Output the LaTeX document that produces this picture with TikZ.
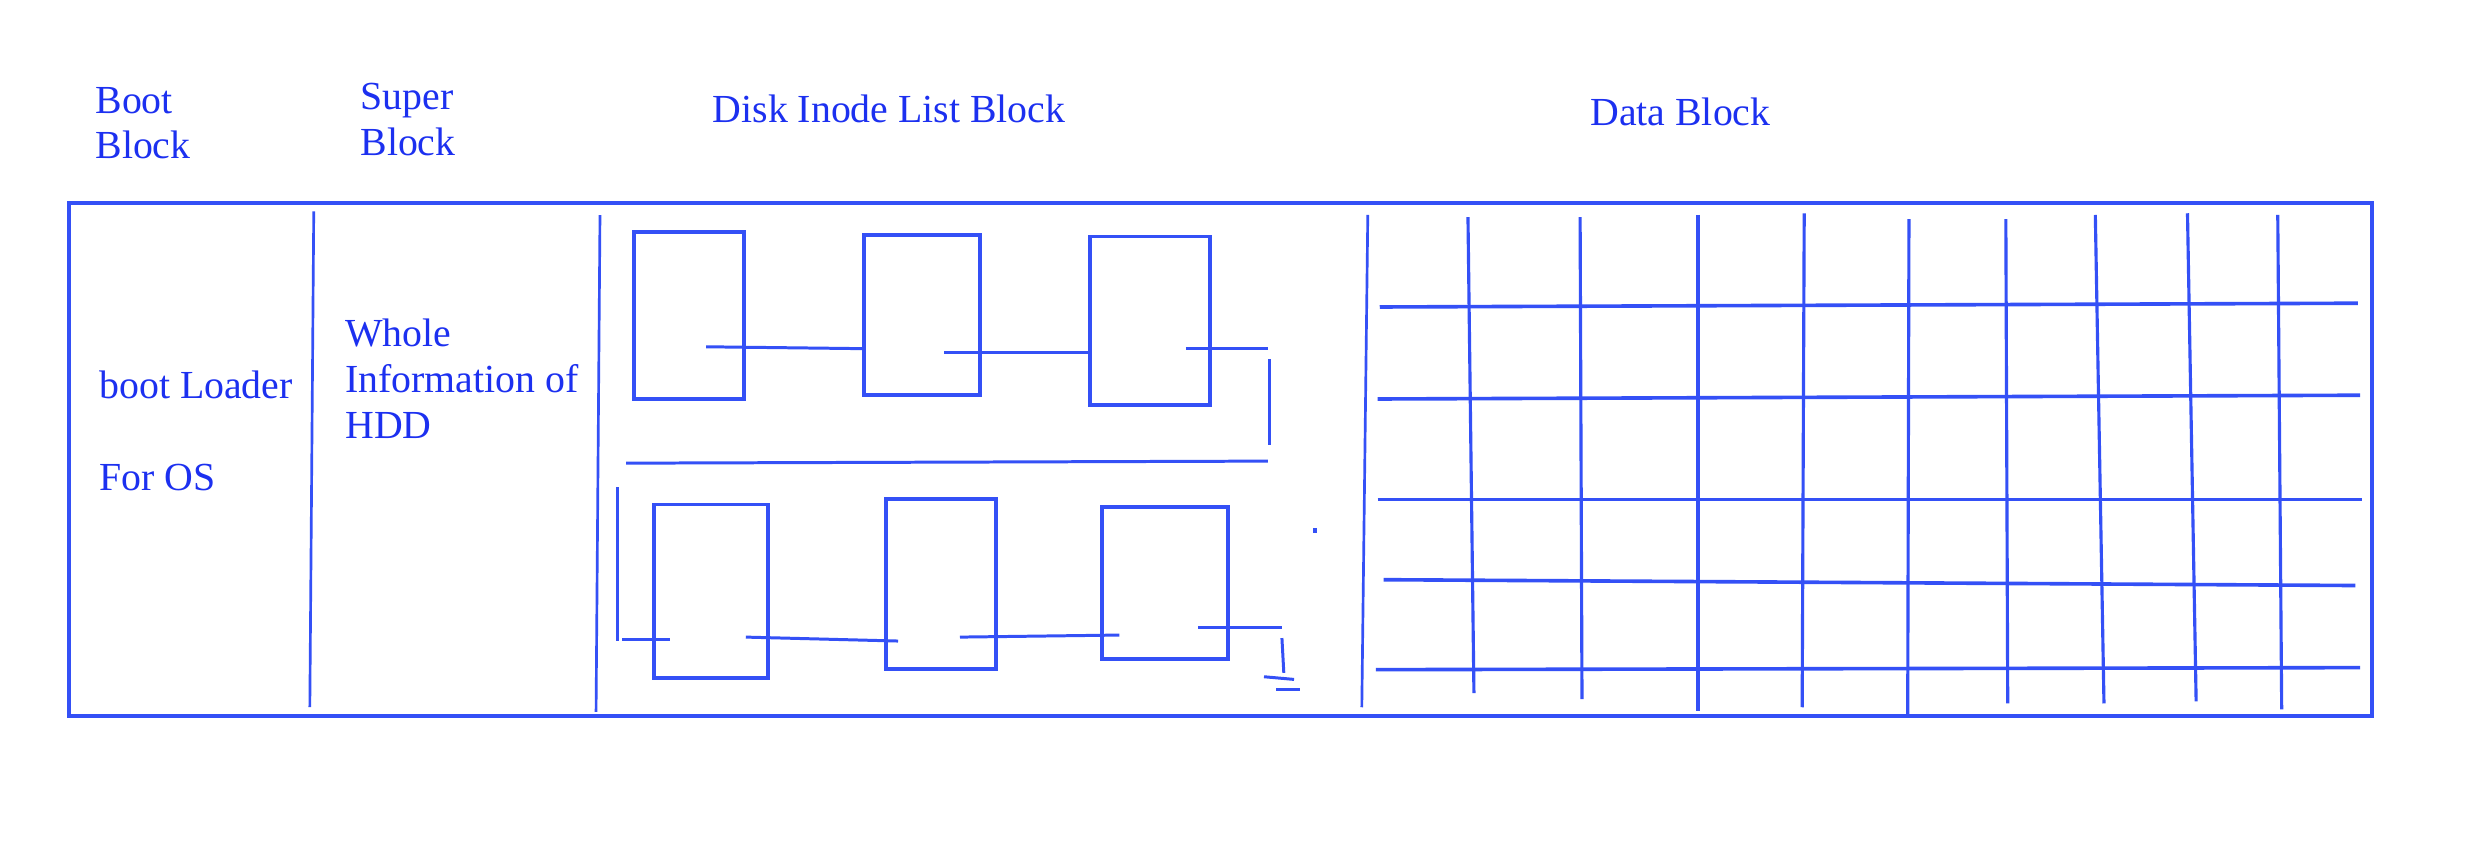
\documentclass[tikz,border=0pt]{standalone}
\usepackage{fontspec}
\setmainfont{Liberation Serif}
\definecolor{pen}{RGB}{52,80,246}
\definecolor{ink}{RGB}{28,48,240}
\begin{document}
\begin{tikzpicture}[x=1pt,y=-1pt,
  lbl/.style={anchor=base west,inner sep=0pt,text=ink,font=\fontsize{25.3}{28.7}\selectfont},
  frame/.style={draw=pen,line width=2.6pt},
  stroke/.style={draw=pen,line width=1.9pt},
  divider/.style={draw=pen,line width=1.7pt},
  gridv/.style={draw=pen,line width=2.0pt},
  gridh/.style={draw=pen,line width=2.3pt},
  inode/.style={draw=pen,line width=2.5pt,rectangle,inner sep=0pt}]
\useasboundingbox (0,0) rectangle (1568,540);
\fill[white] (0,0) rectangle (1568,540);
% outer frame
\draw[frame] (44,129) rectangle (1508,455);
% titles
\node[lbl] (t1a) at (60.5,72) {Boot};
\node[lbl] (t1b) at (60.5,100.6) {Block};
\node[lbl] (t2a) at (229,69.8) {Super};
\node[lbl] (t2b) at (229,98.6) {Block};
\node[lbl] (t3) at (453,78) {Disk Inode List Block};
\node[lbl] (t4) at (1011,80) {Data Block};
% contents
\node[lbl] (b1) at (63,253.4) {boot Loader};
\node[lbl] (b2) at (63,312) {For OS};
\node[lbl] (s1) at (219.4,220.6) {Whole};
\node[lbl] (s2) at (219.4,249.6) {Information of};
\node[lbl] (s3) at (219.4,278.7) {HDD};
% dividers
\draw[divider] (199.5,134.4) -- (197,449.6);
\draw[divider] (381.5,136.8) -- (379,452.7);
\draw[divider] (869.7,136.7) -- (865.9,449.7);
% inode boxes (upper)
\node[inode,minimum width=70pt,minimum height=106.1pt] (A) at (438,200.75) {};
\node[inode,minimum width=73.7pt,minimum height=102pt] (B) at (586.25,200.2) {};
\node[inode,minimum width=76.5pt,minimum height=107pt] (C) at (731.25,203.9) {};
% inode boxes (lower)
\node[inode,minimum width=72.4pt,minimum height=110.2pt] (D) at (452.2,375.9) {};
\node[inode,minimum width=69.9pt,minimum height=108.6pt] (E) at (598.25,371.3) {};
\node[inode,minimum width=80.2pt,minimum height=97pt] (F) at (740.8,370.8) {};
% links (upper)
\coordinate (a1) at (449,220.5);  \coordinate (b0) at (549.4,221.7);
\coordinate (b1) at (600.3,224.3); \coordinate (c0) at (693,224.3);
\coordinate (c1) at (754,221.7);  \coordinate (c2) at (806.1,221.7);
\coordinate (v1) at (807.4,228.5); \coordinate (v2) at (807.4,282.8);
\coordinate (h1) at (806.1,293.2); \coordinate (h2) at (398.1,294.5);
\coordinate (w1) at (392.8,309.8); \coordinate (w2) at (392.8,407.6);
\coordinate (d0) at (395.6,406.5); \coordinate (d0b) at (426.1,406.5);
\draw[stroke] (a1) -- (b0);
\draw[stroke] (b1) -- (c0);
\draw[stroke] (c1) -- (c2);
\draw[stroke] (v1) -- (v2);
\draw[stroke] (h1) -- (h2);
\draw[stroke] (w1) -- (w2);
\draw[stroke] (d0) -- (d0b);
% links (lower)
\coordinate (d1) at (474.2,405.1); \coordinate (e0) at (571,407.6);
\coordinate (e1) at (610.4,405.1); \coordinate (f0) at (711.8,403.8);
\coordinate (f1) at (761.8,398.7); \coordinate (f2) at (815.1,398.7);
\coordinate (g1) at (815.1,405.7); \coordinate (g2) at (816.3,427.8);
\coordinate (k1) at (803.7,430.3); \coordinate (k2) at (822.8,432);
\coordinate (m1) at (811.4,438.2); \coordinate (m2) at (826.5,438.2);
\draw[stroke] (d1) -- (e0);
\draw[stroke] (e1) -- (f0);
\draw[stroke] (f1) -- (f2);
\draw[stroke] (g1) -- (g2);
\draw[stroke] (k1) -- (k2);
\draw[stroke] (m1) -- (m2);
\fill[pen] (835,335.5) rectangle (837.2,338.8);
% data grid verticals
\draw[gridv] (933.4,138) -- (937.2,440.7);
\draw[gridv] (1004.7,138) -- (1005.9,444.6);
\draw[gridv] (1079.7,136.7) -- (1079.7,452.3);
\draw[gridv] (1147.2,135.6) -- (1145.9,449.7);
\draw[gridv] (1213.8,139.3) -- (1213,455);
\draw[gridv] (1275.4,139.3) -- (1276.6,447.3);
\draw[gridv] (1332.3,136.7) -- (1337.8,447.3);
\draw[gridv] (1390.9,135.6) -- (1396.4,446);
\draw[gridv] (1448.3,136.7) -- (1450.8,451);
% data grid horizontals
\draw[gridh] (877.3,195.2) -- (1499.3,192.8);
\draw[gridh] (876,253.7) -- (1500.6,251.3);
\draw[gridh] (876,317.5) -- (1501.9,317.5);
\draw[gridh] (879.8,368.6) -- (1497.6,372.3);
\draw[gridh] (874.8,425.8) -- (1500.6,424.5);
\end{tikzpicture}
\end{document}
